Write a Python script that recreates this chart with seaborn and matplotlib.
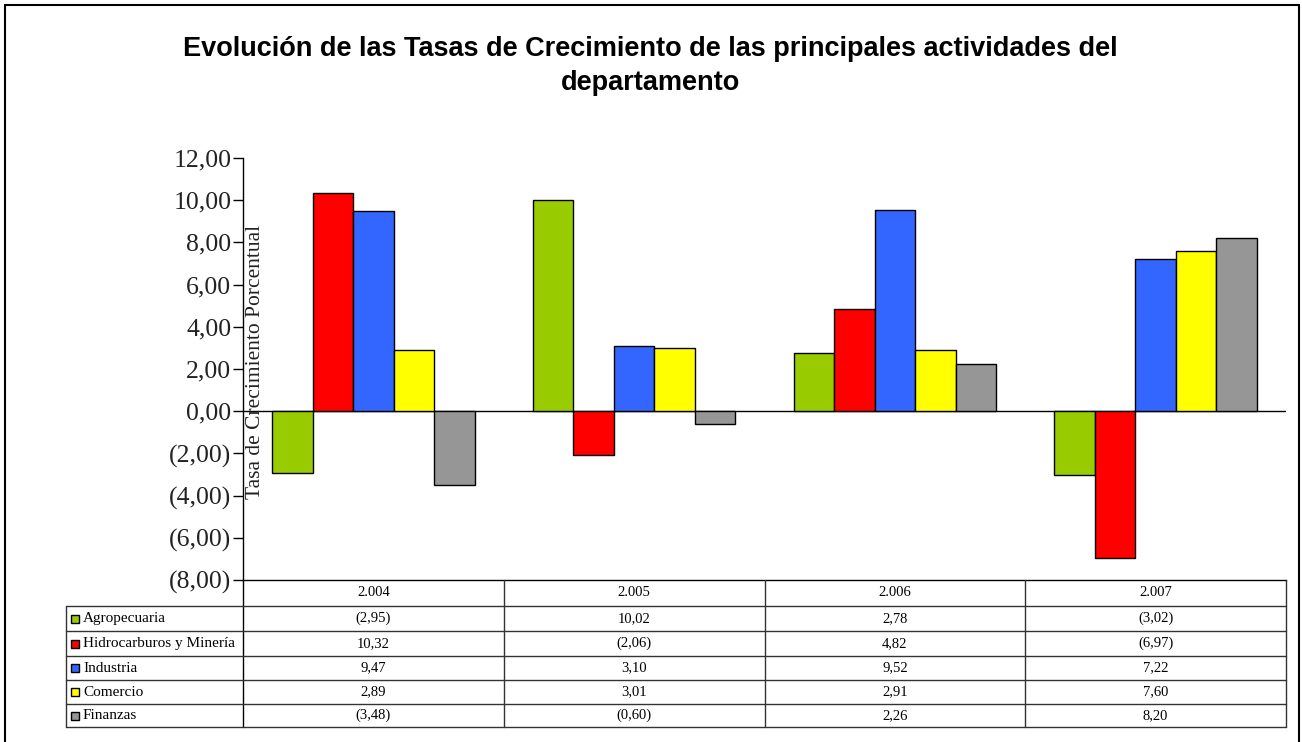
import matplotlib
matplotlib.use("Agg")
import matplotlib.pyplot as plt
from matplotlib.lines import Line2D
from matplotlib.patches import Rectangle
from matplotlib.transforms import blended_transform_factory
import seaborn as sns
import pandas as pd

years = ["2.004", "2.005", "2.006", "2.007"]
series_names = ["Agropecuaria", "Hidrocarburos y Minería", "Industria", "Comercio", "Finanzas"]
agropecuaria = [-2.95, 10.02, 2.78, -3.02]
hidrocarburos = [10.32, -2.06, 4.82, -6.97]
industria = [9.47, 3.10, 9.52, 7.22]
comercio = [2.89, 3.01, 2.91, 7.60]
finanzas = [-3.48, -0.60, 2.26, 8.20]
colors = ["#99CC00", "#FF0000", "#3366FF", "#FFFF00", "#969696"]
yticks = [-8, -6, -4, -2, 0, 2, 4, 6, 8, 10, 12]
title = "Evolución de las Tasas de Crecimiento de las principales actividades del\ndepartamento"
ylabel = "Tasa de Crecimiento Porcentual"

values = [agropecuaria, hidrocarburos, industria, comercio, finanzas]
df = pd.DataFrame([{"Año": y, "Actividad": s, "Tasa": v[i]}
                   for s, v in zip(series_names, values) for i, y in enumerate(years)])


def fmt(v):
    s = f"{abs(v):.2f}".replace(".", ",")
    return f"({s})" if v < 0 else s


sns.set_theme(style="white")
plt.rcParams["font.family"] = ["Liberation Serif", "DejaVu Serif"]
plt.rcParams["text.color"] = "black"

W, H = 1302, 742
fig = plt.figure(figsize=(W / 100, H / 100), dpi=100)
fig.patch.set_facecolor("white")


def fx(p):
    return p / W


def fy(p):
    return 1 - p / H


ax = fig.add_axes([fx(243), fy(580), fx(1286) - fx(243), fy(158) - fy(580)])
sns.barplot(data=df, x="Año", y="Tasa", hue="Actividad", order=years, hue_order=series_names,
            palette=colors, saturation=1, width=0.776, edgecolor="black", linewidth=1.0,
            legend=False, ax=ax, errorbar=None)
ax.set_xlim(-0.5, 3.5)
ax.set_ylim(-8, 12)
ax.set_yticks(yticks)
ax.set_yticklabels([fmt(t) for t in yticks], fontsize=18.5, color="#222222")
ax.set_xticks([])
ax.set_xlabel("")
ax.set_ylabel("")
ax.tick_params(axis="y", left=True, length=7, width=1, color="black", direction="out", pad=1.5)
for s in ["top", "right"]:
    ax.spines[s].set_visible(False)
for s in ["left", "bottom"]:
    ax.spines[s].set_color("black")
    ax.spines[s].set_linewidth(1)
ax.axhline(0, color="black", lw=1, zorder=0.5)
ax.set_facecolor("white")

fig.text(fx(255), fy(362), ylabel, rotation=90, ha="center", va="center", fontsize=15.5, color="#222222")

fig.text(fx(650), fy(66), title, ha="center", va="center", fontsize=19.5, fontweight="bold",
         family=["Liberation Sans", "DejaVu Sans"], linespacing=1.42, color="black")

# data table
tr = blended_transform_factory(ax.transData, fig.transFigure)
rows = [606, 631, 656, 680, 704, 727]
left_px, right_px = 66, 1286
lc = "#333333"
fs = 10.5
for i, y in enumerate(years):
    fig.text(i, fy(593), y, transform=tr, ha="center", va="center", fontsize=fs)
for edge in [0.5, 1.5, 2.5, 3.5]:
    fig.add_artist(Line2D([edge, edge], [fy(580), fy(rows[-1])], transform=tr, color=lc, lw=1))
fig.add_artist(Line2D([fx(243), fx(243)], [fy(580), fy(rows[-1])], transform=fig.transFigure, color="black", lw=1))
fig.add_artist(Line2D([fx(left_px), fx(left_px)], [fy(rows[0]), fy(rows[-1])], transform=fig.transFigure, color=lc, lw=1))
for r in rows:
    fig.add_artist(Line2D([fx(left_px), fx(right_px)], [fy(r), fy(r)], transform=fig.transFigure, color=lc, lw=1))
for j, (name, vals, c) in enumerate(zip(series_names, values, colors)):
    yc = (rows[j] + rows[j + 1]) / 2
    fig.add_artist(Rectangle((fx(71), fy(yc + 4)), fx(8), 8 / H, transform=fig.transFigure,
                             facecolor=c, edgecolor="black", lw=1))
    fig.text(fx(83), fy(yc), name, ha="left", va="center", fontsize=11)
    for i, v in enumerate(vals):
        fig.text(i, fy(yc), fmt(v), transform=tr, ha="center", va="center", fontsize=fs)

# outer border
fig.add_artist(Rectangle((fx(5), -0.01), fx(1299) - fx(5), fy(5) + 0.01, transform=fig.transFigure,
                         fill=False, edgecolor="black", lw=1.5))

fig.savefig("out.png", dpi=100)
